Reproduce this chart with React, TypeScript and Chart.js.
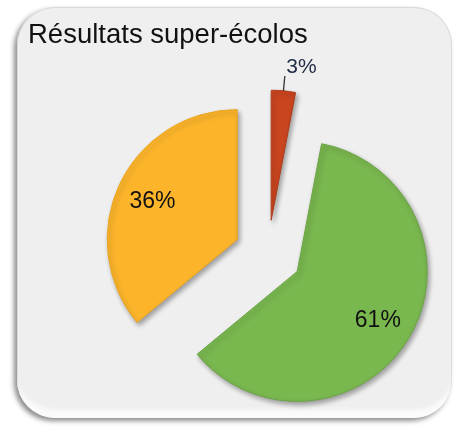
import React, { useEffect, useRef } from 'react';
import { Chart, PieController, ArcElement, Title } from 'chart.js';

Chart.register(PieController, ArcElement, Title);

const TITLE = 'Résultats super-écolos';
const CATEGORIES = ['Rouge', 'Vert', 'Orange'];
const VALUES = [3, 61, 36];
const COLORS = ['#C9451F', '#79B74F', '#FCB52B'];
const BORDER_COLORS = ['#B03A18', '#6AA343', '#E9A522'];

const FONT = '"Liberation Sans", Arial, sans-serif';

const explodePlugin = {
  id: 'explode',
  afterDatasetUpdate(chart: any, args: any, opts: any) {
    const d = opts.distance || 0;
    args.meta.data.forEach((arc: any) => {
      const mid = (arc.startAngle + arc.endAngle) / 2;
      arc.x += Math.cos(mid) * d;
      arc.y += Math.sin(mid) * d;
    });
  },
};

const shadowPlugin = {
  id: 'sliceShadow',
  beforeDatasetsDraw(chart: any, _args: any, opts: any) {
    const ctx = chart.ctx;
    ctx.save();
    ctx.shadowColor = opts.color;
    ctx.shadowBlur = opts.blur;
    ctx.shadowOffsetX = opts.offsetX;
    ctx.shadowOffsetY = opts.offsetY;
  },
  afterDatasetsDraw(chart: any) {
    chart.ctx.restore();
  },
};

const labelPlugin = {
  id: 'sliceLabels',
  afterDraw(chart: any, _args: any, opts: any) {
    const ctx = chart.ctx;
    const meta = chart.getDatasetMeta(0);
    const data = chart.data.datasets[0].data as number[];
    meta.data.forEach((arc: any, i: number) => {
      const { x, y, startAngle, endAngle, outerRadius } = arc;
      const mid = (startAngle + endAngle) / 2;
      const text = `${data[i]}%`;
      ctx.save();
      if (data[i] < opts.outsideBelow) {
        const x1 = x + Math.cos(mid) * outerRadius;
        const y1 = y + Math.sin(mid) * outerRadius;
        const r2 = outerRadius * opts.leaderLength;
        const x2 = x + Math.cos(mid) * r2;
        const y2 = y + Math.sin(mid) * r2;
        ctx.strokeStyle = opts.leaderColor;
        ctx.lineWidth = 1.3;
        ctx.beginPath();
        ctx.moveTo(x1, y1);
        ctx.lineTo(x2, y2);
        ctx.stroke();
        ctx.font = `${opts.outsideSize}px ${FONT}`;
        ctx.fillStyle = opts.outsideColor;
        ctx.textAlign = 'left';
        ctx.textBaseline = 'alphabetic';
        ctx.fillText(text, x2 + 1.5, y2 - 2.5);
      } else {
        const r = outerRadius * opts.insideRatio;
        const cx = x + Math.cos(mid) * r;
        const cy = y + Math.sin(mid) * r;
        ctx.font = `${opts.insideSize}px ${FONT}`;
        ctx.fillStyle = opts.insideColor;
        ctx.textAlign = 'center';
        ctx.textBaseline = 'alphabetic';
        ctx.fillText(text, cx, cy + opts.insideSize * 0.358);
      }
      ctx.restore();
    });
  },
};

export default function App() {
  const canvasRef = useRef<HTMLCanvasElement | null>(null);

  useEffect(() => {
    const canvas = canvasRef.current;
    if (!canvas) return;
    const chart = new Chart(canvas, {
      type: 'pie',
      data: {
        labels: CATEGORIES,
        datasets: [
          {
            data: VALUES,
            backgroundColor: COLORS,
            borderColor: BORDER_COLORS,
            borderWidth: 1,
            radius: 130,
            clip: false,
          } as any,
        ],
      },
      options: {
        responsive: false,
        maintainAspectRatio: false,
        animation: false,
        devicePixelRatio: 1,
        events: [],
        layout: { padding: { left: 28, right: 0, top: 0, bottom: 1.8 } },
        plugins: {
          legend: { display: false },
          tooltip: { enabled: false },
          title: {
            display: true,
            text: TITLE,
            align: 'start',
            color: '#111111',
            font: { family: FONT, size: 27.5, weight: 'normal' },
            padding: { top: 19.0, bottom: 0 },
          },
          explode: { distance: 34 },
          sliceShadow: { color: 'rgba(0,0,0,0.35)', blur: 5, offsetX: 2, offsetY: 3 },
          sliceLabels: {
            outsideBelow: 5,
            leaderLength: 1.115,
            leaderColor: '#333333',
            outsideSize: 21,
            outsideColor: '#1f2a44',
            insideRatio: 0.72,
            insideSize: 23,
            insideColor: '#111111',
          },
        } as any,
      },
      plugins: [explodePlugin, shadowPlugin, labelPlugin],
    });
    return () => chart.destroy();
  }, []);

  return (
    <div
      style={{
        position: 'fixed',
        left: 0,
        top: 0,
        width: 460,
        height: 433,
        overflow: 'hidden',
        background: '#ffffff',
      }}
    >
      <div
        style={{
          position: 'absolute',
          left: 17,
          top: 7,
          width: 435,
          height: 411,
          borderRadius: 38,
          background: '#efefef',
          boxShadow:
            '-3px 3px 5px rgba(0,0,0,0.45), inset 0 -11px 4px -3px #fbfbfb, inset 0 0 0 1px #d9d9d9',
        }}
      />
      <canvas
        ref={canvasRef}
        width={508}
        height={458}
        style={{ position: 'absolute', left: 0, top: 0, width: 508, height: 458 }}
      />
    </div>
  );
}
